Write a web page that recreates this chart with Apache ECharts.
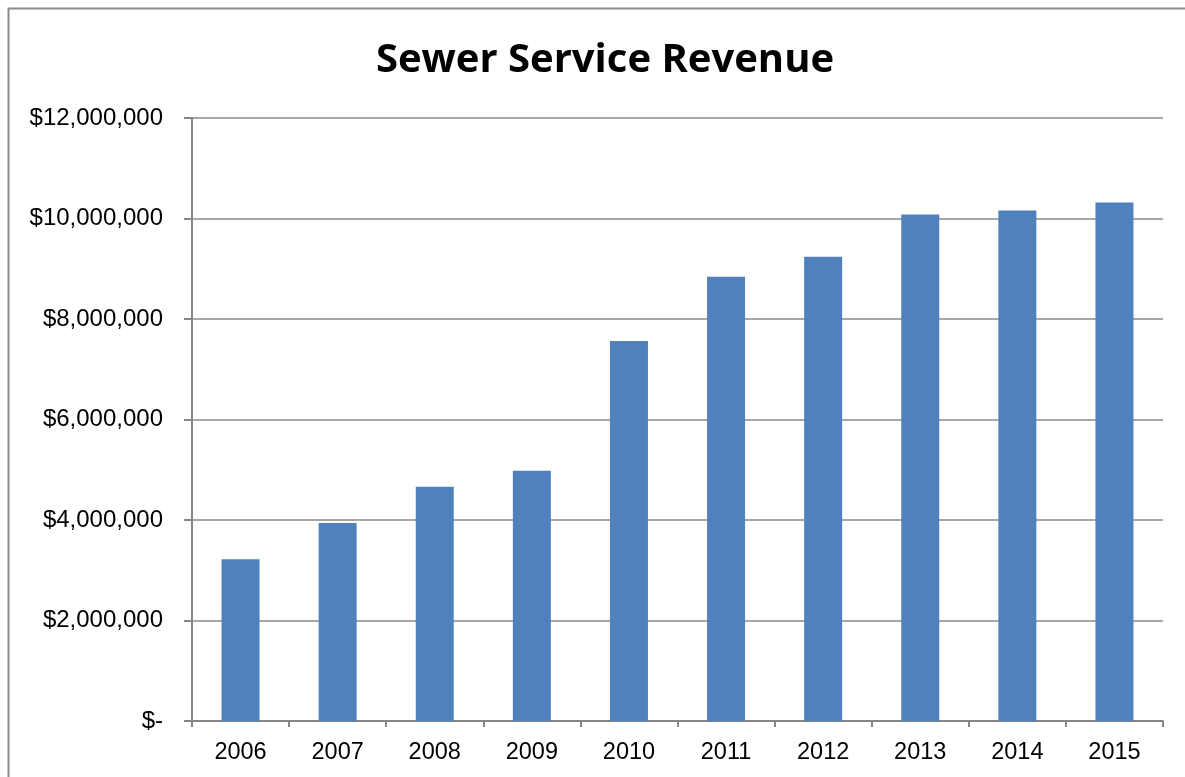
<!DOCTYPE html>
<html>
<head>
<meta charset="utf-8">
<script src="https://cdn.jsdelivr.net/npm/echarts@6/dist/echarts.min.js"></script>
<style>
html,body{margin:0;padding:0;background:#fff;}
#chart{width:1185px;height:777px;}
</style>
</head>
<body>
<div id="chart"></div>
<script>
const titleText = "Sewer Service Revenue";
const years = ["2006","2007","2008","2009","2010","2011","2012","2013","2014","2015"];
const revenue = [3220000, 3940000, 4660000, 4980000, 7560000, 8840000, 9240000, 10080000, 10160000, 10320000];
const yTicks = [0, 2000000, 4000000, 6000000, 8000000, 10000000, 12000000];

function fmt(v){
  if (v === 0) return "$-";
  return "$" + v.toString().replace(/\B(?=(\d{3})+(?!\d))/g, ",");
}

const chart = echarts.init(document.getElementById('chart'), null, {renderer:'canvas'});
chart.setOption({
  animation: false,
  backgroundColor: '#ffffff',
  title: {
    text: titleText,
    left: 600,
    textAlign: 'center',
    top: 36,
    textStyle: {fontFamily: 'Open Sans', fontWeight: 'bold', fontSize: 40, color: '#000'}
  },
  graphic: [{
    type: 'rect',
    shape: {x: 8.5, y: 8.5, width: 1200, height: 800},
    style: {fill: 'none', stroke: '#8c8c8c', lineWidth: 2},
    silent: true
  }],
  grid: {left: 192, right: 22, top: 118, bottom: 56, containLabel: false},
  xAxis: {
    type: 'category',
    data: years,
    boundaryGap: true,
    axisLine: {lineStyle: {color: '#868686', width: 2}},
    axisTick: {show: true, length: 6, lineStyle: {color: '#868686', width: 2}},
    axisLabel: {fontFamily: 'Liberation Sans', fontSize: 23.5, color: '#000', margin: 20}
  },
  yAxis: {
    type: 'value',
    min: yTicks[0],
    max: yTicks[yTicks.length-1],
    interval: 2000000,
    axisLine: {show: true, lineStyle: {color: '#868686', width: 2}},
    axisTick: {show: true, length: 8, lineStyle: {color: '#868686', width: 2}},
    splitLine: {show: true, lineStyle: {color: '#8a8a8a', width: 1.5}},
    axisLabel: {fontFamily: 'Liberation Sans', fontSize: 24, color: '#000', margin: 29, formatter: fmt}
  },
  series: [{
    type: 'bar',
    data: revenue,
    barWidth: 38,
    itemStyle: {color: '#4F81BD'}
  }]
});
</script>
</body>
</html>
